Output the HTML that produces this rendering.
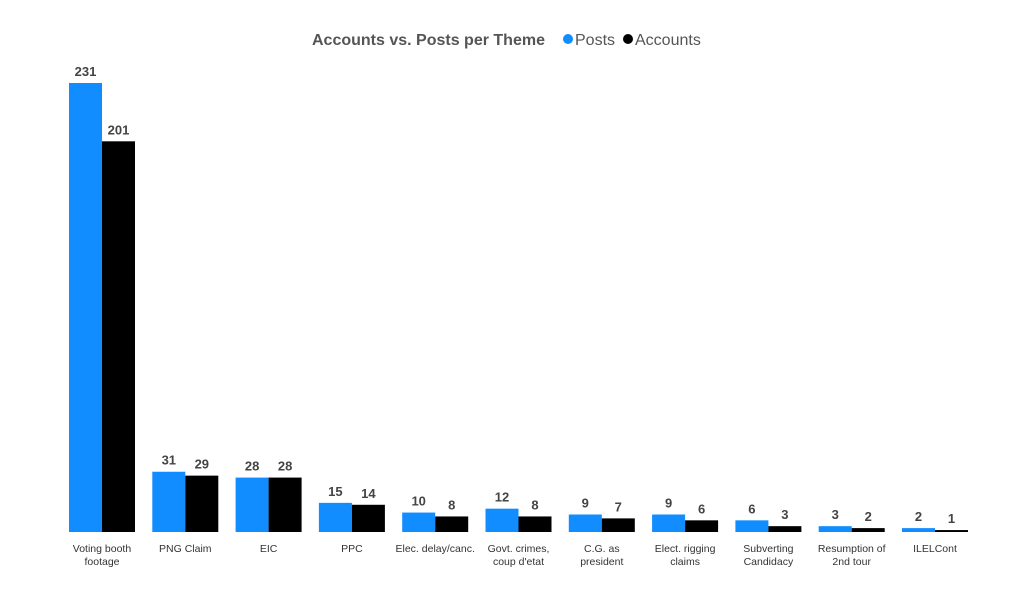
<!DOCTYPE html>
<html><head><meta charset="utf-8"><style>
body{margin:0;background:#fff;width:1024px;height:592px;overflow:hidden;font-family:"Liberation Sans",sans-serif}
</style></head><body>
<svg id="chart" width="1024" height="592">
<text x="312" y="45" font-size="16" font-weight="bold" fill="#555">Accounts vs. Posts per Theme</text>
<g>
<circle cx="568" cy="39" r="5" fill="#118DFF"/>
<text x="575" y="45" font-size="16" fill="#555">Posts</text>
<circle cx="628" cy="39" r="5" fill="#000"/>
<text x="635" y="45" font-size="16" fill="#555">Accounts</text>
</g>
<g id="bars"></g>
</svg>
<script>
const categories=[["Voting booth","footage"],["PNG Claim"],["EIC"],["PPC"],["Elec. delay/canc."],["Govt. crimes,","coup d'etat"],["C.G. as","president"],["Elect. rigging","claims"],["Subverting","Candidacy"],["Resumption of","2nd tour"],["ILELCont"]];
const posts=[231,31,28,15,10,12,9,9,6,3,2];
const accounts=[201,29,28,14,8,8,7,6,3,2,1];
const NS="http://www.w3.org/2000/svg";
const gBars=document.getElementById('bars');
const baseY=532, yTop=83, maxV=231;
const yScale=v=>baseY-(baseY-yTop)*v/maxV;
const x0=69, step=83.3, bw=33;
function mk(t,a){const e=document.createElementNS(NS,t);for(const k in a)e.setAttribute(k,a[k]);gBars.appendChild(e);return e;}
categories.forEach((c,i)=>{
  const gx=x0+i*step;
  [[posts[i],'#118DFF',0,'posts'],[accounts[i],'#000',bw,'accounts']].forEach(([v,col,off,nm])=>{
    const r=mk('rect',{x:gx+off,y:yScale(v),width:bw,height:baseY-yScale(v),fill:col});
    
    
    const t=mk('text',{x:gx+off+bw/2,y:yScale(v)-7,'text-anchor':'middle','font-size':'13','font-weight':'bold',fill:'#444','font-family':'Liberation Sans, sans-serif'});
    t.textContent=v;
    
    
  });
  c.forEach((line,j)=>{
    const t=mk('text',{x:gx+bw,y:552+j*13,'text-anchor':'middle','font-size':'10.5',fill:'#333','font-family':'Liberation Sans, sans-serif'});
    t.textContent=line;
    
    
  });
});
</script>
</body></html>
